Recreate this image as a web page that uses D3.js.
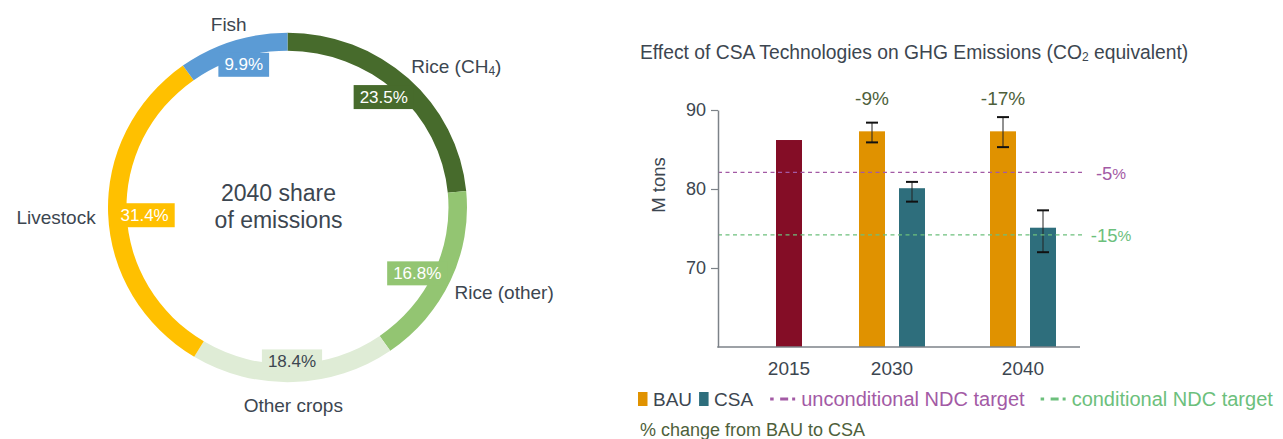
<!DOCTYPE html>
<html><head><meta charset="utf-8">
<script src="https://cdn.jsdelivr.net/npm/d3@7"></script>
<style>body{margin:0;background:#fff} svg{display:block;font-family:"Liberation Sans",Arial,Helvetica,sans-serif}</style>
</head><body><svg id="c" width="1283" height="439"></svg>
<script>
// ---------- DATA ----------
const sectors = ["Rice (CH4)", "Rice (other)", "Other crops", "Livestock", "Fish"];
const shares = [23.5, 16.8, 18.4, 31.4, 9.9];
const centerTitle = ["2040 share", "of emissions"];

const categories = ["2015", "2030", "2040"];
const historical = [86.2, null, null];
const bau = [null, 87.3, 87.3];
const csa = [null, 80.1, 75.1];
const bauErrLow = [null, 85.9, 85.3];
const bauErrHigh = [null, 88.4, 89.1];
const csaErrLow = [null, 78.4, 72.0];
const csaErrHigh = [null, 80.9, 77.3];
const changeLabels = ["", "-9%", "-17%"];
const targetNames = ["unconditional NDC target", "conditional NDC target"];
const targetValues = [82.1, 74.2];
const targetLabels = ["-5", "-15"];
const yTicks = [70, 80, 90];

// ---------- STYLES ----------
const sectorColors = ["#476b2c", "#93c572", "#dfecd6", "#ffc000", "#5b9bd5"];
const boxTextColors = ["#fff", "#fff", "#3c4650", "#fff", "#fff"];
const textColor = "#3c4650";
const cHist = "#840d26", cBAU = "#e09200", cCSA = "#2e6e7c";
const targetColors = ["#a35aa5", "#6cc07c"];
const olive = "#4e5f3b";

const svg = d3.select("#c");

// ---------- DONUT ----------
const cx = 287.5, cy = 207.5, rOut = 179.5, thick = 18.5, ys = 0.973;
const pie = d3.pie().sort(null).value(d => d)(shares);
const arc = d3.arc().innerRadius(rOut - thick).outerRadius(rOut);
const dg = svg.append("g").attr("transform", `translate(${cx},${cy})`);
const ringG = dg.append("g").attr("transform", `scale(1,${ys})`);
ringG.selectAll("path").data(pie).join("path")
  .attr("d", arc).attr("fill", (d, i) => sectorColors[i]);

function writeName(sel, name) {
  const m = name.match(/^(.*CH)4(\).*)$/);
  if (m) {
    sel.append("tspan").text(m[1]);
    sel.append("tspan").text("4").attr("font-size", 12).attr("dy", 5);
    sel.append("tspan").text(m[2]).attr("dy", -5);
  } else sel.text(name);
}

const boxG = dg.append("g"), labG = dg.append("g");
pie.forEach((d, i) => {
  const a = (d.startAngle + d.endAngle) / 2;
  const s = Math.sin(a), c = -Math.cos(a);
  const bx = 143 * s, by = 152 * c + 2;
  const t = labG.append("text").attr("x", bx).attr("y", by).attr("text-anchor", "middle")
    .attr("dominant-baseline", "central").attr("font-size", 17).attr("fill", boxTextColors[i])
    .text(shares[i].toFixed(1) + "%");
  const w = t.node().getComputedTextLength() + 12;
  boxG.append("rect").attr("x", bx - w / 2).attr("y", by - 12).attr("width", w).attr("height", 24)
    .attr("fill", sectorColors[i]);
  const lx = (s > 0 ? 184 : 192) * s, ly = 195 * c + 3;
  const anchor = Math.abs(s) < 0.4 ? "middle" : (s > 0 ? "start" : "end");
  const lt = labG.append("text").attr("x", lx).attr("y", ly).attr("text-anchor", anchor)
    .attr("dominant-baseline", "central").attr("font-size", 19).attr("fill", textColor);
  writeName(lt, sectors[i]);
});

centerTitle.forEach((line, i) => {
  dg.append("text").attr("x", -9).attr("y", -15 + i * 27).attr("text-anchor", "middle")
    .attr("dominant-baseline", "central").attr("font-size", 23).attr("fill", textColor).text(line);
});

// ---------- BAR CHART ----------
const x0 = 718, x1 = 1080, yTop = 110, yBot = 347;
const y = d3.scaleLinear().domain([60, 90]).range([yBot, yTop]);
const gx = d3.scaleOrdinal().domain(categories).range([789, 892, 1023]);
const sub = d3.scaleBand().domain(["BAU", "CSA"]).range([-33, 33]).paddingInner(0.35);
const bw = sub.bandwidth();

const bg = svg.append("g");

const title = bg.append("text").attr("x", 640).attr("y", 52).attr("dominant-baseline", "central")
  .attr("font-size", 19.3).attr("fill", textColor);
title.append("tspan").text("Effect of CSA Technologies on GHG Emissions (CO");
title.append("tspan").text("2").attr("font-size", 12).attr("dy", 5);
title.append("tspan").text(" equivalent)").attr("dy", -5);

categories.forEach((cat, i) => {
  if (historical[i] != null) {
    bg.append("rect").attr("x", gx(cat) - bw / 2).attr("width", bw)
      .attr("y", y(historical[i])).attr("height", y(60) - y(historical[i])).attr("fill", cHist);
  }
  [["BAU", bau, bauErrLow, bauErrHigh, cBAU], ["CSA", csa, csaErrLow, csaErrHigh, cCSA]].forEach(([k, vals, lo, hi, col]) => {
    if (vals[i] == null) return;
    const xl = gx(cat) + sub(k);
    bg.append("rect").attr("x", xl).attr("width", bw).attr("y", y(vals[i]))
      .attr("height", y(60) - y(vals[i])).attr("fill", col);
    const xc = xl + bw / 2;
    bg.append("line").attr("x1", xc).attr("x2", xc).attr("y1", y(hi[i])).attr("y2", y(lo[i]))
      .attr("stroke", "#222").attr("stroke-width", 1);
    [lo[i], hi[i]].forEach(v => bg.append("line").attr("x1", xc - 6).attr("x2", xc + 6)
      .attr("y1", y(v)).attr("y2", y(v)).attr("stroke", "#111").attr("stroke-width", 2));
  });
  if (changeLabels[i]) {
    bg.append("text").attr("x", gx(cat) + sub("BAU") + bw / 2).attr("y", 98)
      .attr("text-anchor", "middle").attr("dominant-baseline", "central")
      .attr("font-size", 19).attr("fill", olive).text(changeLabels[i]);
  }
});

targetValues.forEach((v, i) => {
  bg.append("line").attr("x1", x0).attr("x2", 1084).attr("y1", y(v)).attr("y2", y(v))
    .attr("stroke", targetColors[i]).attr("stroke-width", 1.2).attr("stroke-dasharray", "4,3.5");
  const t = bg.append("text").attr("x", 1111).attr("y", y(v) + 0.5).attr("text-anchor", "middle")
    .attr("dominant-baseline", "central").attr("fill", targetColors[i]).attr("font-size", 18.5);
  t.append("tspan").text(targetLabels[i]);
  t.append("tspan").text("%").attr("font-size", 15.5);
});

const ya = bg.append("g").attr("transform", `translate(${x0},0)`)
  .call(d3.axisLeft(y).tickValues(yTicks).tickSize(7).tickSizeOuter(0).tickPadding(5));
ya.select(".domain").attr("stroke", "#7c8288").attr("stroke-width", 1.5);
ya.selectAll(".tick line").attr("stroke", "#7c8288").attr("stroke-width", 1.2);
ya.selectAll(".tick text").attr("font-size", 18).attr("fill", textColor).attr("font-family", null);

bg.append("line").attr("x1", x0 - 0.75).attr("x2", x1).attr("y1", yBot).attr("y2", yBot)
  .attr("stroke", "#7c8288").attr("stroke-width", 1.5);
categories.forEach(cat => {
  bg.append("text").attr("x", gx(cat)).attr("y", 368).attr("text-anchor", "middle")
    .attr("dominant-baseline", "central").attr("font-size", 19).attr("fill", textColor).text(cat);
});

bg.append("text").attr("transform", `translate(658,185) rotate(-90)`).attr("text-anchor", "middle")
  .attr("dominant-baseline", "central").attr("font-size", 18.5).attr("fill", textColor).text("M tons");

const ly = 399;
let lx = 638;
const lg = bg.append("g");
[["BAU", cBAU], ["CSA", cCSA]].forEach(([name, col]) => {
  lg.append("rect").attr("x", lx).attr("y", ly - 7).attr("width", 9.5).attr("height", 14).attr("fill", col);
  const t = lg.append("text").attr("x", lx + 15).attr("y", ly).attr("dominant-baseline", "central")
    .attr("font-size", 19).attr("fill", textColor).text(name);
  lx += 15 + t.node().getComputedTextLength() + 7;
});
lx += 10;
targetNames.forEach((name, i) => {
  lg.append("line").attr("x1", lx).attr("x2", lx + 25).attr("y1", ly).attr("y2", ly)
    .attr("stroke", targetColors[i]).attr("stroke-width", 3).attr("stroke-dasharray", "3.5,6.5,8,4,3,20");
  const t = lg.append("text").attr("x", lx + 31).attr("y", ly).attr("dominant-baseline", "central")
    .attr("font-size", 20).attr("fill", targetColors[i]).text(name);
  lx += 31 + t.node().getComputedTextLength() + 16;
});

bg.append("text").attr("x", 640).attr("y", 429.5).attr("dominant-baseline", "central")
  .attr("font-size", 18).attr("fill", olive).text("% change from BAU to CSA");
</script></body></html>
